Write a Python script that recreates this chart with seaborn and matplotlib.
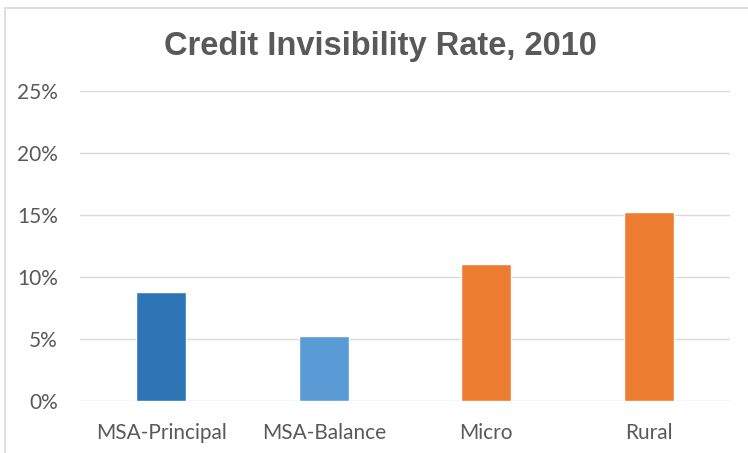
import matplotlib
matplotlib.use("Agg")
import matplotlib.pyplot as plt
import matplotlib.ticker as mticker
from matplotlib.patches import Rectangle
import seaborn as sns
import pandas as pd

categories = ["MSA-Principal", "MSA-Balance", "Micro", "Rural"]
rates = [0.088, 0.052, 0.110, 0.152]
bar_colors = ["#2E75B6", "#5B9BD5", "#ED7D31", "#ED7D31"]
y_ticks = [0, 0.05, 0.10, 0.15, 0.20, 0.25]
title = "Credit Invisibility Rate, 2010"

df = pd.DataFrame({"area": categories, "rate": rates})

sns.set_theme(style="white")
plt.rcParams["font.family"] = ["Lato", "DejaVu Sans"]

fig = plt.figure(figsize=(7.48, 4.53), dpi=100)
ax = fig.add_axes([0.107, 0.1155, 0.869, 0.6835])

sns.barplot(data=df, x="area", y="rate", hue="area", palette=bar_colors,
            width=0.31, legend=False, ax=ax, saturation=1)

ax.set_ylim(0, 0.25)
ax.set_yticks(y_ticks)
ax.yaxis.set_major_formatter(mticker.PercentFormatter(1.0, decimals=0))
ax.set_xlim(-0.5, 3.5)
ax.grid(axis="y", color="#D9D9D9", linewidth=1.0)
ax.set_axisbelow(True)
for s in ax.spines.values():
    s.set_visible(False)
ax.set_xlabel("")
ax.set_ylabel("")
ax.tick_params(axis="both", length=0, labelsize=15, labelcolor="#595959")
ax.tick_params(axis="y", pad=16)
ax.tick_params(axis="x", pad=16)

fig.text(0.508, 0.898, title, ha="center", va="center", fontsize=23.5,
         fontweight="bold", color="#595959", family=["Liberation Sans", "DejaVu Sans"])

# light frame around the chart area
fig.patches.append(Rectangle((5 / 748, -0.05), 1.2, 1 - 8 / 453 + 0.05,
                             transform=fig.transFigure, fill=False,
                             edgecolor="#D9D9D9", linewidth=1.2))

fig.savefig("out.png", dpi=100)
